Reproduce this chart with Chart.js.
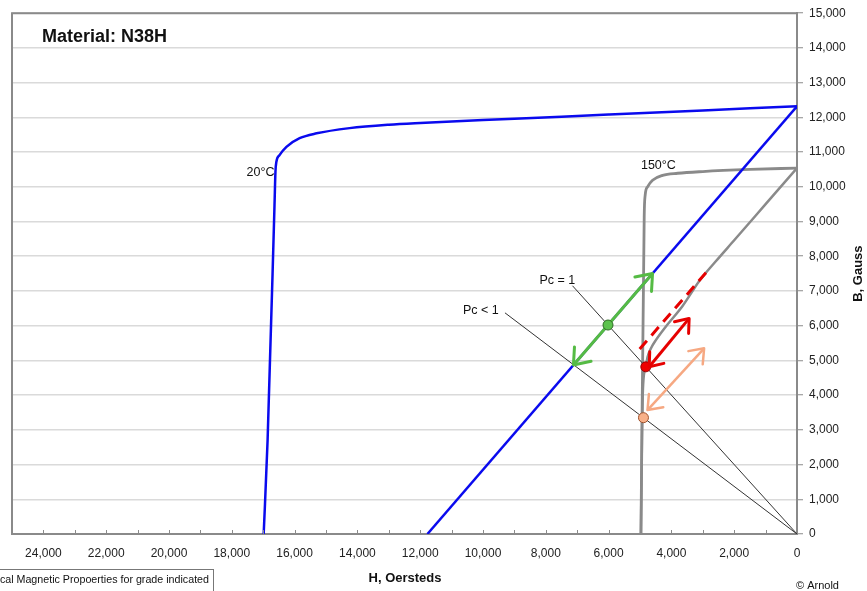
<!DOCTYPE html>
<html>
<head>
<meta charset="utf-8">
<script src="https://cdn.jsdelivr.net/npm/chart.js@4/dist/chart.umd.min.js"></script>
<style>
  html, body { margin: 0; padding: 0; background: #fff; }
  canvas { display: block; }
</style>
</head>
<body>
<canvas id="c" width="867" height="591"></canvas>
<script>
// ---- Demagnetization curves, N38H (H in Oersteds, B in Gauss) ----
// 20°C intrinsic curve
const H_INTR_20 = [0, 3000, 6000, 9000, 12000, 13000, 14250, 15300, 15840, 16260, 16480, 16580, 16610, 16640, 16860, 16985];
const B_INTR_20 = [12320, 12200, 12080, 11960, 11840, 11790, 11690, 11540, 11400, 11150, 10910, 10720, 10430, 9470, 2700, 0];
// 20°C normal curve
const H_NORM_20 = [0, 11770];
const B_NORM_20 = [12320, 0];
// 150°C intrinsic curve
const H_INTR_150 = [0, 1500, 3000, 3800, 4280, 4600, 4760, 4835, 4866, 4970];
const B_INTR_150 = [10540, 10500, 10440, 10390, 10330, 10190, 10000, 9760, 9140, 0];
// 150°C normal curve
const H_NORM_150 = [0, 1000, 2000, 2600, 3100, 3650, 4180, 4490, 4650, 4760, 4815, 4900, 4935, 4970];
const B_NORM_150 = [10540, 9500, 8460, 7840, 7300, 6560, 5970, 5590, 5350, 5100, 4815, 4300, 3000, 0];
// straight extension of the 150°C normal curve (dashed)
const H_EXT_150 = [2900, 5150];
const B_EXT_150 = [7524, 5184];
// permeance coefficient load lines
const H_PC1 = [0, 7150];
const B_PC1 = [0, 7150];
const H_PCLT1 = [0, 9300];
const B_PCLT1 = [0, 6370];
// recoil double arrows
const H_ARROW_GREEN = [4600, 7120];
const B_ARROW_GREEN = [7505, 4870];
const H_ARROW_RED = [3435, 4707];
const B_ARROW_RED = [6210, 4817];
const H_ARROW_ORANGE = [2958, 4761];
const B_ARROW_ORANGE = [5347, 3570];
// operating points
const H_OP_GREEN = [6019];
const B_OP_GREEN = [6019];
const H_OP_RED = [4815];
const B_OP_RED = [4815];
const H_OP_ORANGE = [4890];
const B_OP_ORANGE = [3350];

// Axis ranges and tick values
const H_MAX = 25000, H_MINOR = 1000;
const H_TICKS = [0, 2000, 4000, 6000, 8000, 10000, 12000, 14000, 16000, 18000, 20000, 22000, 24000];
const B_MAX = 15000;
const B_TICKS = [0, 1000, 2000, 3000, 4000, 5000, 6000, 7000, 8000, 9000, 10000, 11000, 12000, 13000, 14000, 15000];

// Curve annotations: [text, H, B, align]
const NOTES = [
  ['20°C', 16640, 10420, 'right'],
  ['150°C', 4970, 10600, 'left'],
  ['Pc = 1', 7060, 7290, 'right'],
  ['Pc < 1', 9500, 6450, 'right']
];

const pts = (hs, bs) => hs.map((h, i) => ({ x: h, y: bs[i] }));
const FONT = '"Liberation Sans", Arial, Helvetica, sans-serif';
Chart.defaults.font.family = FONT;
Chart.defaults.color = '#222';

const BLUE = '#0a0aee', GRAY = '#8a8a8a', GREEN = '#55bb44', RED = '#e60000', ORANGE = '#f6a882';

function lineSet(data, color, width, order, extra) {
  return Object.assign({
    data, borderColor: color, borderWidth: width, showLine: true,
    pointRadius: 0, fill: false, order, tension: 0
  }, extra || {});
}

const datasets = [
  { data: pts(H_OP_GREEN, B_OP_GREEN), pointRadius: 5, pointBackgroundColor: '#5cc24d', pointBorderColor: '#2d6b22', pointBorderWidth: 1, showLine: false, order: 0 },
  { data: pts(H_OP_RED, B_OP_RED), pointRadius: 5, pointBackgroundColor: '#ee0000', pointBorderColor: '#990000', pointBorderWidth: 1, showLine: false, order: 0 },
  { data: pts(H_OP_ORANGE, B_OP_ORANGE), pointRadius: 5, pointBackgroundColor: '#f8b088', pointBorderColor: '#a0522d', pointBorderWidth: 1, showLine: false, order: 0 },
  lineSet(pts(H_ARROW_GREEN, B_ARROW_GREEN), GREEN, 3, 1, { arrow: 18 }),
  lineSet(pts(H_ARROW_RED, B_ARROW_RED), RED, 3, 1, { arrow: 15 }),
  lineSet(pts(H_ARROW_ORANGE, B_ARROW_ORANGE), ORANGE, 2.5, 1, { arrow: 16 }),
  lineSet(pts(H_EXT_150, B_EXT_150), RED, 3, 2, { borderDash: [11, 7] }),
  lineSet(pts(H_PC1, B_PC1), '#333', 1, 3),
  lineSet(pts(H_PCLT1, B_PCLT1), '#333', 1, 3),
  lineSet(pts(H_NORM_20, B_NORM_20), BLUE, 2.5, 4),
  lineSet(pts(H_INTR_20, B_INTR_20), BLUE, 2.5, 4, { cubicInterpolationMode: 'monotone' }),
  lineSet(pts(H_NORM_150, B_NORM_150), GRAY, 2.5, 5, { cubicInterpolationMode: 'monotone' }),
  lineSet(pts(H_INTR_150, B_INTR_150), GRAY, 2.8, 5, { cubicInterpolationMode: 'monotone' })
];

const decor = {
  id: 'decor',
  afterDatasetsDraw(chart) {
    const ctx = chart.ctx;
    // double-headed arrows
    chart.data.datasets.forEach((ds, i) => {
      if (!ds.arrow) return;
      const els = chart.getDatasetMeta(i).data;
      const a = els[0], b = els[els.length - 1];
      ctx.save();
      ctx.strokeStyle = ds.borderColor;
      ctx.lineWidth = ds.borderWidth;
      ctx.lineCap = 'round';
      ctx.lineJoin = 'round';
      [[b, a], [a, b]].forEach(([from, tip]) => {
        const ang = Math.atan2(tip.y - from.y, tip.x - from.x);
        const th = Math.PI / 4.8;
        ctx.beginPath();
        ctx.moveTo(tip.x - ds.arrow * Math.cos(ang - th), tip.y - ds.arrow * Math.sin(ang - th));
        ctx.lineTo(tip.x, tip.y);
        ctx.lineTo(tip.x - ds.arrow * Math.cos(ang + th), tip.y - ds.arrow * Math.sin(ang + th));
        ctx.stroke();
      });
      ctx.restore();
    });
  },
  afterDraw(chart) {
    const ctx = chart.ctx, ca = chart.chartArea;
    const xs = chart.scales.x, ys = chart.scales.y;
    ctx.save();
    // plot frame (top and left edges)
    ctx.strokeStyle = GRAY;
    ctx.lineWidth = 2;
    ctx.beginPath();
    ctx.moveTo(ca.right, ca.top);
    ctx.lineTo(ca.left, ca.top);
    ctx.lineTo(ca.left, ca.bottom);
    ctx.stroke();
    // small inward ticks along the H axis
    ctx.lineWidth = 1;
    for (let v = 0; v <= H_MAX; v += H_MINOR) {
      const px = Math.round(xs.getPixelForValue(v)) + 0.5;
      ctx.beginPath();
      ctx.moveTo(px, ca.bottom);
      ctx.lineTo(px, ca.bottom - 4);
      ctx.stroke();
    }
    // curve annotations
    ctx.fillStyle = '#111';
    ctx.font = '12.5px ' + FONT;
    ctx.textBaseline = 'middle';
    NOTES.forEach(([t, h, b, al]) => {
      ctx.textAlign = al;
      ctx.fillText(t, xs.getPixelForValue(h), ys.getPixelForValue(b));
    });
    // material title
    ctx.textAlign = 'left';
    ctx.textBaseline = 'alphabetic';
    ctx.font = 'bold 18px ' + FONT;
    ctx.fillText('Material: N38H', ca.left + 30, ca.top + 29);
    // axis titles
    ctx.font = 'bold 13px ' + FONT;
    ctx.textAlign = 'center';
    ctx.fillText('H, Oersteds', 405, 582);
    ctx.save();
    ctx.translate(862, (ca.top + ca.bottom) / 2);
    ctx.rotate(-Math.PI / 2);
    ctx.fillText('B, Gauss', 0, 0);
    ctx.restore();
    // footer texts
    ctx.font = '11px ' + FONT;
    ctx.textAlign = 'left';
    ctx.fillText('© Arnold', 796, 589);
    ctx.font = '10.7px ' + FONT;
    ctx.textAlign = 'right';
    ctx.fillText('Typical Magnetic Propoerties for grade indicated', 209, 583);
    ctx.strokeStyle = '#777';
    ctx.lineWidth = 1;
    ctx.strokeRect(-5.5, 569.5, 219, 30);
    ctx.restore();
  }
};

const fmt = v => v.toLocaleString('en-US');

new Chart(document.getElementById('c'), {
  type: 'scatter',
  data: { datasets },
  options: {
    responsive: false,
    animation: false,
    layout: { autoPadding: false, padding: { left: 12, top: 12, right: 0, bottom: 0 } },
    plugins: { legend: { display: false }, tooltip: { enabled: false } },
    elements: { line: { borderJoinStyle: 'round' } },
    scales: {
      x: {
        type: 'linear', reverse: true, min: 0, max: H_MAX,
        afterFit(s) { s.height = 57; },
        afterBuildTicks(s) { s.ticks = H_TICKS.map(v => ({ value: v })); },
        ticks: {
          padding: 12, font: { size: 12 }, color: '#222', maxRotation: 0,
          autoSkip: false, callback: fmt
        },
        grid: { drawOnChartArea: false, drawTicks: false },
        border: { color: GRAY, width: 2 }
      },
      y: {
        type: 'linear', position: 'right', min: 0, max: B_MAX,
        afterFit(s) { s.width = 70; },
        afterBuildTicks(s) { s.ticks = B_TICKS.map(v => ({ value: v })); },
        ticks: { padding: 6, font: { size: 12 }, color: '#222', autoSkip: false, callback: fmt },
        grid: { color: '#dadada', lineWidth: 1.5, tickLength: 6, tickColor: GRAY, tickWidth: 1 },
        border: { color: GRAY, width: 2 }
      }
    }
  },
  plugins: [decor]
});
</script>
</body>
</html>
